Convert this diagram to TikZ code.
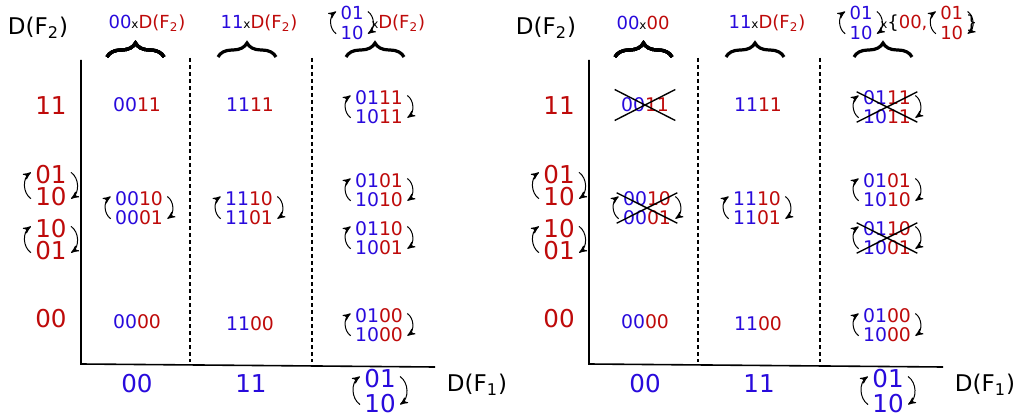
\documentclass[tikz,border=0pt]{standalone}
\usepackage{fontspec}
\setmainfont{DejaVu Sans}
\usetikzlibrary{arrows}
\usetikzlibrary{calc,positioning,decorations.pathreplacing}

\definecolor{bitblue}{RGB}{40,10,220}
\definecolor{bitred}{RGB}{190,10,10}
\newcommand{\inblue}[1]{\textcolor{bitblue}{#1}}
\newcommand{\inred}[1]{\textcolor{bitred}{#1}}
\newcommand{\bits}[2]{\inblue{#1}\inred{#2}}
\newcommand{\timesx}{{\fontsize{6}{6}\selectfont x}}
\newcommand{\DF}[1]{D(F\textsubscript{#1})}

% the two little arrows around a stacked pair
\newcommand{\swaparcs}[1]{%
  \draw[swaparrow] ([xshift=-1pt]$(#1.south west)!0.22!(#1.north west)$)
    to[bend left=55] ([xshift=-1pt]$(#1.south west)!0.8!(#1.north west)$);
  \draw[swaparrow] ([xshift=1pt]$(#1.south east)!0.8!(#1.north east)$)
    to[bend left=55] ([xshift=1pt]$(#1.south east)!0.22!(#1.north east)$);}

\newcommand{\strikecell}[2][-2pt]{%
  \draw[strike] ([shift={(-2pt,#1)}]#2.north west) -- ([shift={(2pt,-#1)}]#2.south east);
  \draw[strike] ([shift={(-2pt,-#1)}]#2.south west) -- ([shift={(2pt,#1)}]#2.north east);}

\begin{document}
\begin{tikzpicture}
[>=stealth',x=0.5pt,y=-0.5pt,
 every node/.style={inner sep=1pt,align=center},
 cell/.style={font=\fontsize{9.4}{9.7}\selectfont},
 axislab/.style={font=\fontsize{12.3}{11}\selectfont},
 dlab/.style={font=\fontsize{11.5}{11.5}\selectfont},
 toplab/.style={font=\fontsize{9}{10}\selectfont},
 swaparrow/.style={->,line width=0.5pt},
 bracemark/.style={decorate,decoration={brace,amplitude=7pt},line width=1.6pt},
 gridline/.style={line width=0.6pt,dash pattern=on 2pt off 1.5pt},
 strike/.style={line width=0.7pt}]

\useasboundingbox (0,0) rectangle (1020,416);

\foreach \p/\dx in {L/0,R/508}{
\begin{scope}[shift={(\dx,0)}]
% axes
\coordinate (\p-top) at (81,60);
\coordinate (\p-o) at (81,364);
\coordinate (\p-end) at (435,367);
\draw[line width=0.8pt] (\p-top) -- (\p-o) -- (\p-end);
\draw[gridline] (190,58) -- (190,362);
\draw[gridline] (312,58) -- (312,362);
\node[dlab] (\p-dy) at (38,28) {\DF{2}};
\node[dlab] (\p-dx) at (477,385) {\DF{1}};
% rows
\node[axislab] (\p-y11) at (51,106) {\inred{11}};
\node[axislab] (\p-y01) at (51,186) {\inred{01}\\\inred{10}};
\node[axislab] (\p-y10) at (51,240) {\inred{10}\\\inred{01}};
\node[axislab] (\p-y00) at (51,319) {\inred{00}};
\swaparcs{\p-y01}
\swaparcs{\p-y10}
% columns
\node[axislab] (\p-x00) at (137,384) {\inblue{00}};
\node[axislab] (\p-x11) at (251,384) {\inblue{11}};
\node[axislab,font=\fontsize{12.3}{12.5}\selectfont] (\p-x01) at (380,391) {\inblue{01}\\\inblue{10}};
\swaparcs{\p-x01}
% cells
\node[cell] (\p-a) at (137,105) {\bits{00}{11}};
\node[cell] (\p-b) at (250,105) {\bits{11}{11}};
\node[cell] (\p-c) at (379,107) {\bits{01}{11}\\\bits{10}{11}};
\node[cell] (\p-d) at (139,208) {\bits{00}{10}\\\bits{00}{01}};
\node[cell] (\p-e) at (249,208) {\bits{11}{10}\\\bits{11}{01}};
\node[cell] (\p-f) at (379,190) {\bits{01}{01}\\\bits{10}{10}};
\node[cell] (\p-g) at (379,238) {\bits{01}{10}\\\bits{10}{01}};
\node[cell] (\p-h) at (137,322) {\bits{00}{00}};
\node[cell] (\p-i) at (250,324) {\bits{11}{00}};
\node[cell] (\p-j) at (379,325) {\bits{01}{00}\\\bits{10}{00}};
\foreach \n in {c,d,e,f,g,j}
  \swaparcs{\p-\n}
% braces
\draw[bracemark] (107,57) -- (164,57);
\draw[bracemark] (218,57) -- (276,57);
\draw[bracemark] (346,57) -- (404,57);
\end{scope}
}

% left panel titles
\node[toplab] (L-t1) at (147,23) {\inblue{00}\timesx\inred{\DF{2}}};
\node[toplab] (L-t2) at (259,23) {\inblue{11}\timesx\inred{\DF{2}}};
\node[toplab] (L-t3s) at (352,23) {\inblue{01}\\\inblue{10}};
\node[toplab,right=1.5pt of L-t3s] (L-t3r) {\timesx\inred{\DF{2}}};
\swaparcs{L-t3s}

% right panel titles
\node[toplab] (R-t1) at (643,23) {\inblue{00}\timesx\inred{00}};
\node[toplab] (R-t2) at (767,23) {\inblue{11}\timesx\inred{\DF{2}}};
\node[toplab] (R-t3s) at (861,23) {\inblue{01}\\\inblue{10}};
\node[toplab,right=1.5pt of R-t3s] (R-t3m) {\timesx\{\inred{00,}};
\node[toplab,right=4pt of R-t3m] (R-t3q) {\inred{01}\\\inred{10}};
\node[toplab,right=-1pt of R-t3q] (R-t3e) {\}};
\swaparcs{R-t3s}
\swaparcs{R-t3q}

% removed entries
\strikecell[3pt]{R-a}
\strikecell{R-c}
\strikecell{R-d}
\strikecell{R-g}

\end{tikzpicture}
\end{document}
